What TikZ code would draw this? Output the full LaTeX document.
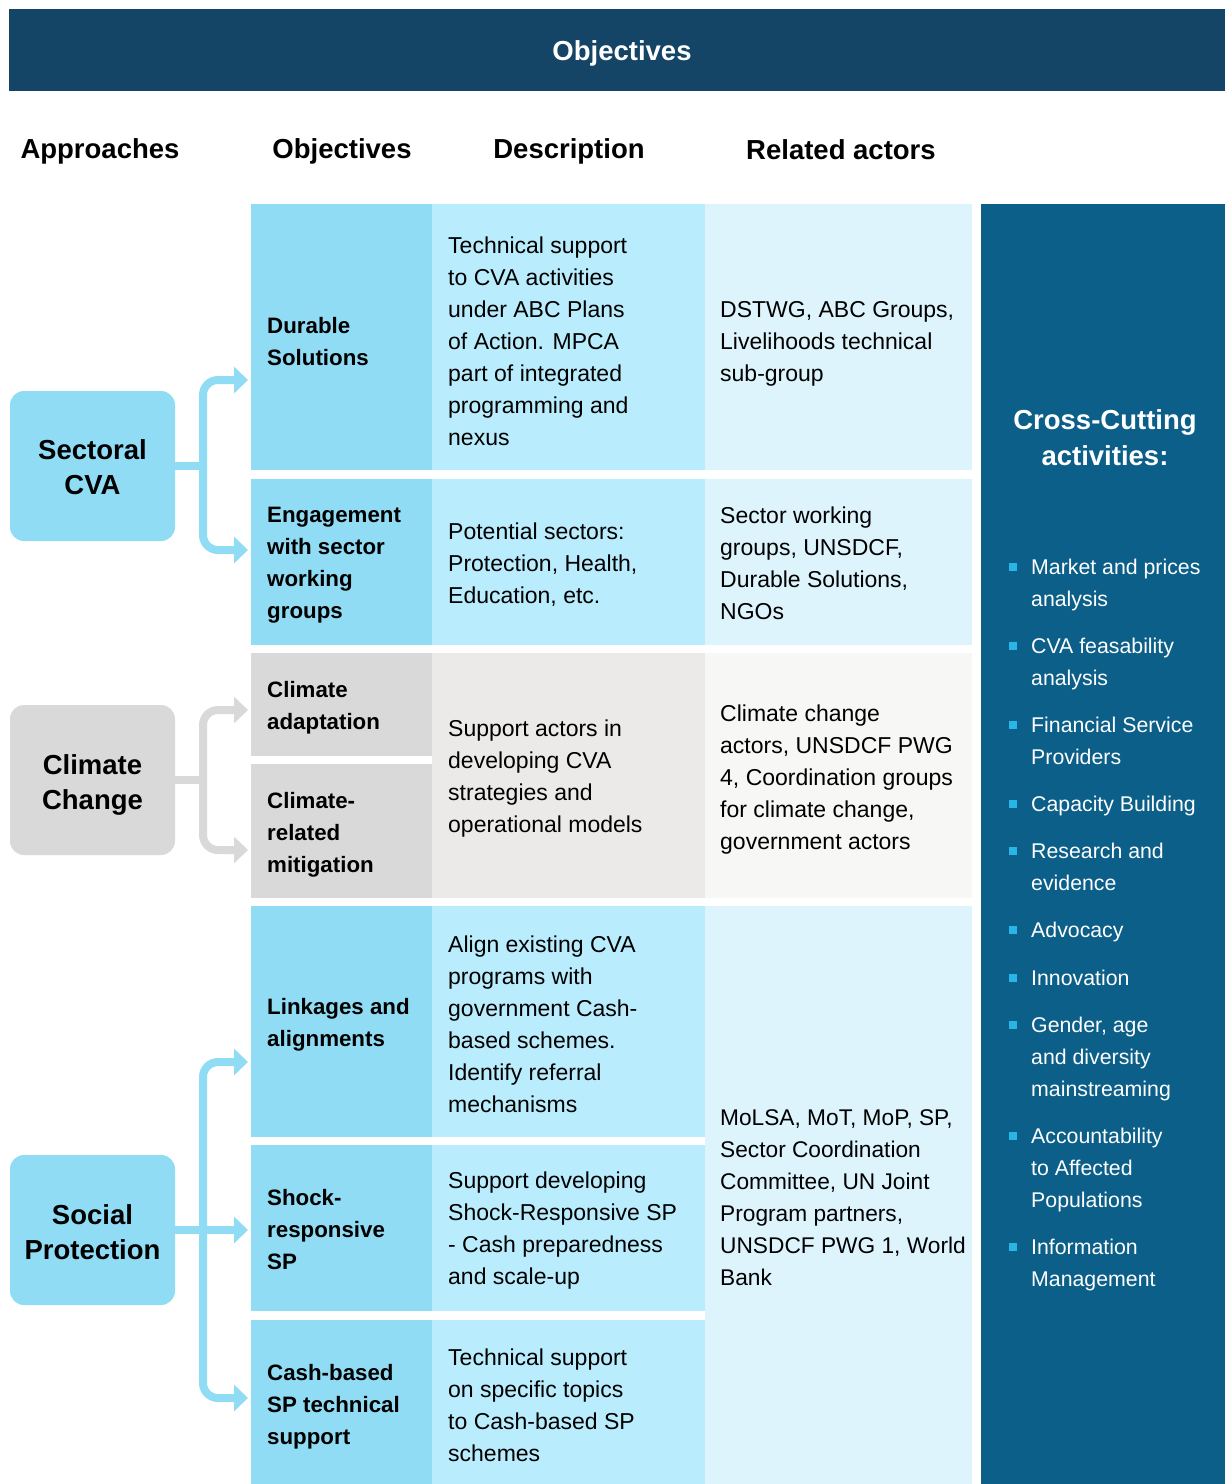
\documentclass[tikz,border=0pt]{standalone}
\usepackage{fontspec}
\setmainfont{Liberation Sans}
\usetikzlibrary{arrows.meta}

\definecolor{navy}{RGB}{21,69,102}
\definecolor{panelblue}{RGB}{11,95,137}
\definecolor{cyanbox}{RGB}{143,220,244}
\definecolor{desccyan}{RGB}{185,236,252}
\definecolor{actcyan}{RGB}{221,244,253}
\definecolor{graybox}{RGB}{217,217,217}
\definecolor{descgray}{RGB}{235,234,233}
\definecolor{actgray}{RGB}{247,247,246}
\definecolor{bulletcyan}{RGB}{41,182,230}

\tikzset{
  cell/.style={anchor=north west, inner sep=0pt, outer sep=0pt},
  objcell/.style={cell, minimum width=181pt},
  desccell/.style={cell, minimum width=273pt},
  actcell/.style={cell, minimum width=267pt},
  objtxt/.style={anchor=west, align=left, inner sep=0pt, yshift=-3.5pt, font=\bfseries\fontsize{22.3}{32}\selectfont},
  bodytxt/.style={anchor=west, align=left, inner sep=0pt, yshift=-3pt, font=\fontsize{23}{32}\selectfont},
  itemtxt/.style={anchor=west, align=left, inner sep=0pt, yshift=-1.5pt, text=white, font=\fontsize{21.3}{32}\selectfont},
  head/.style={font=\bfseries\fontsize{27.5}{33}\selectfont},
  approach/.style={rounded corners=14pt, minimum width=165pt, minimum height=150pt, inner sep=0pt},
  approachtxt/.style={align=center, inner sep=0pt, font=\bfseries\fontsize{27.5}{35}\selectfont},
  link/.style={line width=8pt, rounded corners=15pt},
  >={Triangle[length=14pt,width=26pt]},
}

\begin{document}
\begin{tikzpicture}[x=1pt, y=-1pt]
\useasboundingbox (0,0) rectangle (1225,1484);

% Title bar
\node[cell, fill=navy, minimum width=1226pt, minimum height=82pt] (bar) at (9,9) {};
\node[head, text=white] (barT) at ([yshift=-3.5pt]bar.center) {Objectives};

% Column headers
\node[head] (hApp) at (100,151) {Approaches};
\node[head] (hObj) at (342,151) {Objectives};
\node[head] (hDesc) at (569,151) {Description};
\node[head] (hAct) at (841,150) {Related actors};

% Sectoral CVA rows
\node[objcell, fill=cyanbox, minimum height=266pt] (durObj) at (251,204) {};
\node[desccell, fill=desccyan, minimum height=266pt] (durDesc) at (432,204) {};
\node[actcell, fill=actcyan, minimum height=266pt] (durAct) at (705,204) {};
\node[objtxt, yshift=-1pt] (durObjT) at ([xshift=16pt]durObj.west) {Durable\\Solutions};
\node[bodytxt, yshift=-1pt] (durDescT) at ([xshift=16pt]durDesc.west) {Technical support\\to CVA activities\\under ABC Plans\\of Action. MPCA\\part of integrated\\programming and\\nexus};
\node[bodytxt, yshift=-4pt] (durActT) at ([xshift=15pt]durAct.west) {DSTWG, ABC Groups,\\Livelihoods technical\\sub-group};

\node[objcell, fill=cyanbox, minimum height=166pt] (engObj) at (251,479) {};
\node[desccell, fill=desccyan, minimum height=166pt] (engDesc) at (432,479) {};
\node[actcell, fill=actcyan, minimum height=166pt] (engAct) at (705,479) {};
\node[objtxt] (engObjT) at ([xshift=16pt]engObj.west) {Engagement\\with sector\\working\\groups};
\node[bodytxt] (engDescT) at ([xshift=16pt]engDesc.west) {Potential sectors:\\Protection, Health,\\Education, etc.};
\node[bodytxt, yshift=2pt] (engActT) at ([xshift=15pt]engAct.west) {Sector working\\groups, UNSDCF,\\Durable Solutions,\\NGOs};

% Climate Change rows
\node[objcell, fill=graybox, minimum height=103pt] (adaObj) at (251,653) {};
\node[objcell, fill=graybox, minimum height=134pt] (mitObj) at (251,764) {};
\node[desccell, fill=descgray, minimum height=245pt] (cliDesc) at (432,653) {};
\node[actcell, fill=actgray, minimum height=245pt] (cliAct) at (705,653) {};
\node[objtxt] (adaObjT) at ([xshift=16pt]adaObj.west) {Climate\\adaptation};
\node[objtxt] (mitObjT) at ([xshift=16pt]mitObj.west) {Climate-\\related\\mitigation};
\node[bodytxt] (cliDescT) at ([xshift=16pt]cliDesc.west) {Support actors in\\developing CVA\\strategies and\\operational models};
\node[bodytxt, yshift=-1pt] (cliActT) at ([xshift=15pt]cliAct.west) {Climate change\\actors, UNSDCF PWG\\4, Coordination groups\\for climate change,\\government actors};

% Social Protection rows
\node[objcell, fill=cyanbox, minimum height=231pt] (linObj) at (251,906) {};
\node[desccell, fill=desccyan, minimum height=231pt] (linDesc) at (432,906) {};
\node[objcell, fill=cyanbox, minimum height=166pt] (shoObj) at (251,1145) {};
\node[desccell, fill=desccyan, minimum height=166pt] (shoDesc) at (432,1145) {};
\node[objcell, fill=cyanbox, minimum height=164pt] (casObj) at (251,1320) {};
\node[desccell, fill=desccyan, minimum height=164pt] (casDesc) at (432,1320) {};
\node[actcell, fill=actcyan, minimum height=578pt] (spAct) at (705,906) {};
\node[objtxt] (linObjT) at ([xshift=16pt]linObj.west) {Linkages and\\alignments};
\node[bodytxt] (linDescT) at ([xshift=16pt]linDesc.west) {Align existing CVA\\programs with\\government Cash-\\based schemes.\\Identify referral\\mechanisms};
\node[objtxt, yshift=1.5pt] (shoObjT) at ([xshift=16pt]shoObj.west) {Shock-\\responsive\\SP};
\node[bodytxt] (shoDescT) at ([xshift=16pt]shoDesc.west) {Support developing\\Shock-Responsive SP\\- Cash preparedness\\and scale-up};
\node[objtxt, yshift=-1.5pt] (casObjT) at ([xshift=16pt]casObj.west) {Cash-based\\SP technical\\support};
\node[bodytxt] (casDescT) at ([xshift=16pt]casDesc.west) {Technical support\\on specific topics\\to Cash-based SP\\schemes};
\node[bodytxt, font=\fontsize{22.7}{32}\selectfont] (spActT) at ([xshift=15pt]spAct.west) {MoLSA, MoT, MoP, SP,\\Sector Coordination\\Committee, UN Joint\\Program partners,\\UNSDCF PWG 1, World\\Bank};

% Cross-cutting panel
\node[cell, fill=panelblue, minimum width=244pt, minimum height=1280pt] (panel) at (981,204) {};
\node[head, text=white, align=center, font=\bfseries\fontsize{27.5}{36}\selectfont] (ccT) at (1105,437.5) {Cross-Cutting\\activities:};

\fill[bulletcyan] (1009,563) rectangle (1017,571);
\node[itemtxt] (it1) at (1031,583) {Market and prices\\analysis};
\fill[bulletcyan] (1009,642) rectangle (1017,650);
\node[itemtxt] (it2) at (1031,662) {CVA feasability\\analysis};
\fill[bulletcyan] (1009,721) rectangle (1017,729);
\node[itemtxt, yshift=1.5pt] (it3) at (1031,741) {Financial Service\\Providers};
\fill[bulletcyan] (1009,800) rectangle (1017,808);
\node[itemtxt] (it4) at (1031,804) {Capacity Building};
\fill[bulletcyan] (1009,847) rectangle (1017,855);
\node[itemtxt, yshift=1.5pt] (it5) at (1031,867) {Research and\\evidence};
\fill[bulletcyan] (1009,926) rectangle (1017,934);
\node[itemtxt] (it6) at (1031,930) {Advocacy};
\fill[bulletcyan] (1009,974) rectangle (1017,982);
\node[itemtxt, yshift=1.5pt] (it7) at (1031,978) {Innovation};
\fill[bulletcyan] (1009,1021) rectangle (1017,1029);
\node[itemtxt] (it8) at (1031,1057) {Gender, age\\and diversity\\mainstreaming};
\fill[bulletcyan] (1009,1132) rectangle (1017,1140);
\node[itemtxt] (it9) at (1031,1168) {Accountability\\to Affected\\Populations};
\fill[bulletcyan] (1009,1243) rectangle (1017,1251);
\node[itemtxt] (it10) at (1031,1263) {Information\\Management};

% Approach boxes
\node[approach, fill=cyanbox] (sect) at (92.5,466) {};
\node[approach, fill=graybox] (clim) at (92.5,780) {};
\node[approach, fill=cyanbox] (soc) at (92.5,1230) {};
\node[approachtxt] (sectT) at ([yshift=-1.5pt]sect.center) {Sectoral\\CVA};
\node[approachtxt] (climT) at ([yshift=-5pt]clim.center) {Climate\\Change};
\node[approachtxt] (socT) at ([yshift=-2pt]soc.center) {Social\\Protection};

% Connectors from approaches to objectives
\coordinate (sectJ) at (203,466);
\coordinate (sectUp) at (248,380);
\coordinate (sectDn) at (248,550);
\draw[link, cyanbox] (sect.east) -- (sectJ);
\draw[link, cyanbox, <->] (sectUp) -| (sectJ) |- (sectDn);

\coordinate (climJ) at (203,780);
\coordinate (climUp) at (248,710);
\coordinate (climDn) at (248,850);
\draw[link, graybox] (clim.east) -- (climJ);
\draw[link, graybox, <->] (climUp) -| (climJ) |- (climDn);

\coordinate (socJ) at (203,1230);
\coordinate (socUp) at (248,1062);
\coordinate (socMid) at (248,1230);
\coordinate (socDn) at (248,1398);
\draw[link, cyanbox, ->] (soc.east) -- (socMid);
\draw[link, cyanbox, <->] (socUp) -| (socJ) |- (socDn);

\end{tikzpicture}
\end{document}
